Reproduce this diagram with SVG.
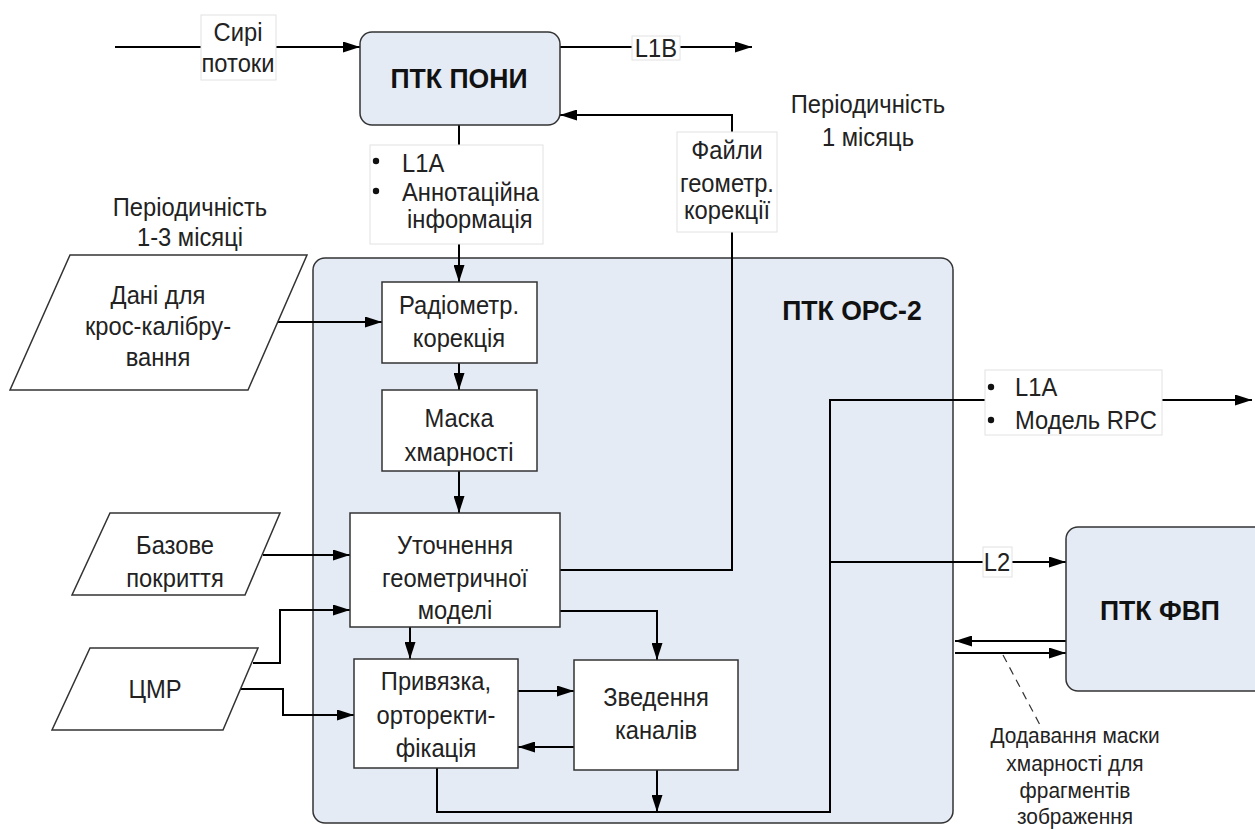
<svg xmlns="http://www.w3.org/2000/svg" width="1255" height="830" viewBox="0 0 1255 830">
<defs>
<marker id="ah" viewBox="0 0 17 11" refX="17" refY="5.5" markerWidth="17" markerHeight="11" orient="auto" markerUnits="userSpaceOnUse"><path d="M0,0 L17,5.5 L0,11 z" fill="#000"/></marker>
</defs>
<style>
text{font-family:"Liberation Sans",Arial,sans-serif;font-size:25px;fill:#222;text-anchor:middle;transform:scaleX(0.95);transform-box:fill-box;transform-origin:center}
.b{font-weight:bold;font-size:28px;fill:#111}
.s{font-size:22px}
.l{text-anchor:start;transform-origin:left center}
.sys{fill:#e4ebf5;stroke:#333;stroke-width:1.5}
.box{fill:#fff;stroke:#333;stroke-width:1.5}
.lab{fill:#fff;stroke:#e2e2e2;stroke-width:1}
.c{fill:none;stroke:#000;stroke-width:2}
.ca{fill:none;stroke:#000;stroke-width:2;marker-end:url(#ah)}
.d{fill:none;stroke:#333;stroke-width:1.2;stroke-dasharray:8,6}
</style>
<rect width="1255" height="830" fill="#fff"/>
<g id="ptk-ors2"><rect class="sys" x="313" y="258" width="640" height="565" rx="12"/><text class="b" x="852" y="320">ПТК ОРС-2</text></g>
<g id="connectors">
<line class="ca" x1="115" y1="47" x2="360" y2="47"/>
<line class="ca" x1="560" y1="47" x2="752" y2="47"/>
<polyline class="ca" points="560,570 732,570 732,115 560,115"/>
<line class="ca" x1="459" y1="125" x2="459" y2="282"/>
<line class="ca" x1="277" y1="322" x2="382" y2="322"/>
<line class="ca" x1="459" y1="363" x2="459" y2="390"/>
<line class="ca" x1="459" y1="471" x2="459" y2="513"/>
<line class="ca" x1="263" y1="555" x2="350" y2="555"/>
<polyline class="ca" points="253,663 280,663 280,610 350,610"/>
<polyline class="ca" points="240,689 283,689 283,715 354,715"/>
<line class="ca" x1="410" y1="627" x2="410" y2="659"/>
<polyline class="ca" points="560,611 657,611 657,660"/>
<line class="ca" x1="518" y1="691" x2="574" y2="691"/>
<line class="ca" x1="574" y1="747" x2="518" y2="747"/>
<line class="ca" x1="657" y1="770" x2="657" y2="812"/>
<polyline class="ca" points="437,768 437,812 830,812 830,400 1252,400"/>
<line class="ca" x1="830" y1="562" x2="1066" y2="562"/>
<line class="ca" x1="1066" y1="641" x2="955" y2="641"/>
<line class="ca" x1="955" y1="653" x2="1066" y2="653"/>
<line class="d" x1="1003" y1="655" x2="1040" y2="725"/>
<g id="lbl-raw"><rect class="lab" x="201" y="15" width="75" height="65"/><text x="238" y="41">Сирі</text><text x="238" y="72">потоки</text></g>
<g id="lbl-l1b"><rect class="lab" x="632" y="36" width="48" height="24"/><text x="656" y="57">L1B</text></g>
<g id="lbl-files"><rect class="lab" x="677" y="132" width="100" height="100"/><text x="727" y="159">Файли</text><text x="727" y="192">геометр.</text><text x="727" y="219">корекції</text></g>
<g id="lbl-l1a"><rect class="lab" x="370" y="145" width="173" height="99"/><circle cx="376" cy="161" r="3.2" fill="#111"/><circle cx="376" cy="191" r="3.2" fill="#111"/><text class="l" x="402" y="172">L1A</text><text class="l" x="402" y="201">Аннотаційна</text><text class="l" x="407" y="228">інформація</text></g>
<g id="lbl-rpc"><rect class="lab" x="985" y="370" width="177" height="65"/><circle cx="991" cy="387" r="3.2" fill="#111"/><circle cx="991" cy="420" r="3.2" fill="#111"/><text class="l" x="1015" y="396">L1A</text><text class="l" x="1015" y="429">Модель RPC</text></g>
<g id="lbl-l2"><rect class="lab" x="983" y="547" width="29" height="30"/><text x="997" y="571">L2</text></g>
</g>
<g id="ptk-poni"><rect class="sys" x="360" y="32" width="200" height="93" rx="12"/><text class="b" x="459" y="88">ПТК ПОНИ</text></g>
<g id="ptk-fvp"><rect class="sys" x="1066" y="527" width="210" height="164" rx="12"/><text class="b" x="1160" y="620">ПТК ФВП</text></g>
<g id="note-1m"><text x="868" y="113">Періодичність</text><text x="868" y="146">1 місяць</text></g>
<g id="note-13m"><text x="190" y="216">Періодичність</text><text x="190" y="246">1-3 місяці</text></g>
<g id="cross-cal"><polygon class="box" points="70,255 307,255 248,390 10,390"/><text x="158" y="304">Дані для</text><text x="158" y="335">крос-калібру-</text><text x="158" y="366">вання</text></g>
<g id="base-cover"><polygon class="box" points="110,513 280,513 245,595 72,595"/><text x="175" y="554">Базове</text><text x="175" y="587">покриття</text></g>
<g id="dem"><polygon class="box" points="90,648 258,648 223,730 52,730"/><text x="155" y="698">ЦМР</text></g>
<g id="radiom"><rect class="box" x="382" y="282" width="155" height="81"/><text x="459" y="314">Радіометр.</text><text x="459" y="347">корекція</text></g>
<g id="cloud-mask"><rect class="box" x="382" y="390" width="155" height="81"/><text x="459" y="427">Маска</text><text x="459" y="461">хмарності</text></g>
<g id="geom-model"><rect class="box" x="350" y="513" width="210" height="114"/><text x="455" y="554">Уточнення</text><text x="455" y="587">геометричної</text><text x="455" y="619">моделі</text></g>
<g id="ortho"><rect class="box" x="354" y="659" width="164" height="109"/><text x="436" y="690">Привязка,</text><text x="436" y="724">орторекти-</text><text x="436" y="757">фікація</text></g>
<g id="bands"><rect class="box" x="574" y="660" width="164" height="110"/><text x="656" y="706">Зведення</text><text x="656" y="739">каналів</text></g>
<g id="note-mask"><text class="s" x="1075" y="743">Додавання маски</text><text class="s" x="1075" y="771">хмарності для</text><text class="s" x="1075" y="798">фрагментів</text><text class="s" x="1075" y="824">зображення</text></g>
</svg>
